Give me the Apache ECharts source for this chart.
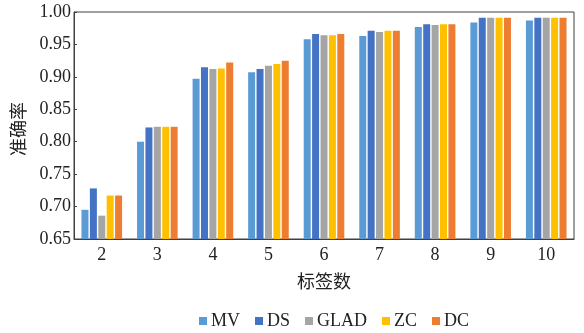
<!DOCTYPE html>
<html><head><meta charset="utf-8">
<script src="https://cdn.jsdelivr.net/npm/echarts@6/dist/echarts.min.js"></script>
<style>html,body{margin:0;padding:0;background:#fff}#c{width:584px;height:333px}</style>
</head><body><div id="c"></div>
<script>
const categories = ['2','3','4','5','6','7','8','9','10'];
const MV   = [0.695,0.800,0.897,0.907,0.958,0.963,0.977,0.984,0.987];
const DS   = [0.728,0.822,0.915,0.912,0.966,0.971,0.981,0.991,0.991];
const GLAD = [0.686,0.823,0.912,0.917,0.964,0.969,0.980,0.991,0.991];
const ZC   = [0.717,0.823,0.913,0.920,0.964,0.971,0.981,0.991,0.991];
const DC   = [0.717,0.823,0.922,0.925,0.966,0.971,0.981,0.991,0.991];
const seriesNames = ['MV','DS','GLAD','ZC','DC'];
const seriesData = [MV,DS,GLAD,ZC,DC];
const colors = ['#5B9BD5','#4472C4','#A5A5A5','#FFC000','#ED7D31'];
const yTicks = ['0.65','0.70','0.75','0.80','0.85','0.90','0.95','1.00'];

const serif = '"Liberation Serif","Times New Roman",serif';
const cjk = '"Noto Sans CJK SC",sans-serif';
const chart = echarts.init(document.getElementById('c'));
chart.setOption({
  animation:false,
  grid:{left:74,right:10,top:12,bottom:94,show:true,borderColor:'#404040',borderWidth:1},
  legend:{
    data:seriesNames, top:307, left:194, itemWidth:8, itemHeight:8, itemGap:15,
    icon:'rect',
    textStyle:{fontFamily:serif,fontSize:18,color:'#222',padding:[0,0,0,-1]}
  },
  xAxis:{
    type:'category', data:categories,
    name:'标签数', nameLocation:'middle', nameGap:33,
    nameTextStyle:{fontFamily:cjk,fontSize:18,color:'#222'},
    axisLine:{lineStyle:{color:'#404040'}},
    axisTick:{show:false},
    axisLabel:{fontFamily:serif,fontSize:18,color:'#222',margin:7}
  },
  yAxis:{
    type:'value', min:0.65, max:1.0, interval:0.05,
    axisLine:{show:true,lineStyle:{color:'#404040'}},
    axisTick:{show:true,inside:true,length:3,lineStyle:{color:'#404040'}},
    splitLine:{show:false},
    axisLabel:{fontFamily:serif,fontSize:18,color:'#222',margin:3,
      formatter:(v)=>yTicks[Math.round((v-0.65)/0.05)] || v.toFixed(2)}
  },
  graphic:[{type:'text',x:18,y:129,rotation:Math.PI/2,
    style:{text:'准确率',font:'18px "Noto Sans CJK SC",sans-serif',fill:'#222',
      align:'center',verticalAlign:'middle',textAlign:'center',textVerticalAlign:'middle'}}],
  series: seriesNames.map((n,i)=>({
    name:n, type:'bar', data:seriesData[i], barWidth:7, barGap:'20%', barCategoryGap:'26%',
    itemStyle:{color:colors[i]}
  }))
});
</script></body></html>
